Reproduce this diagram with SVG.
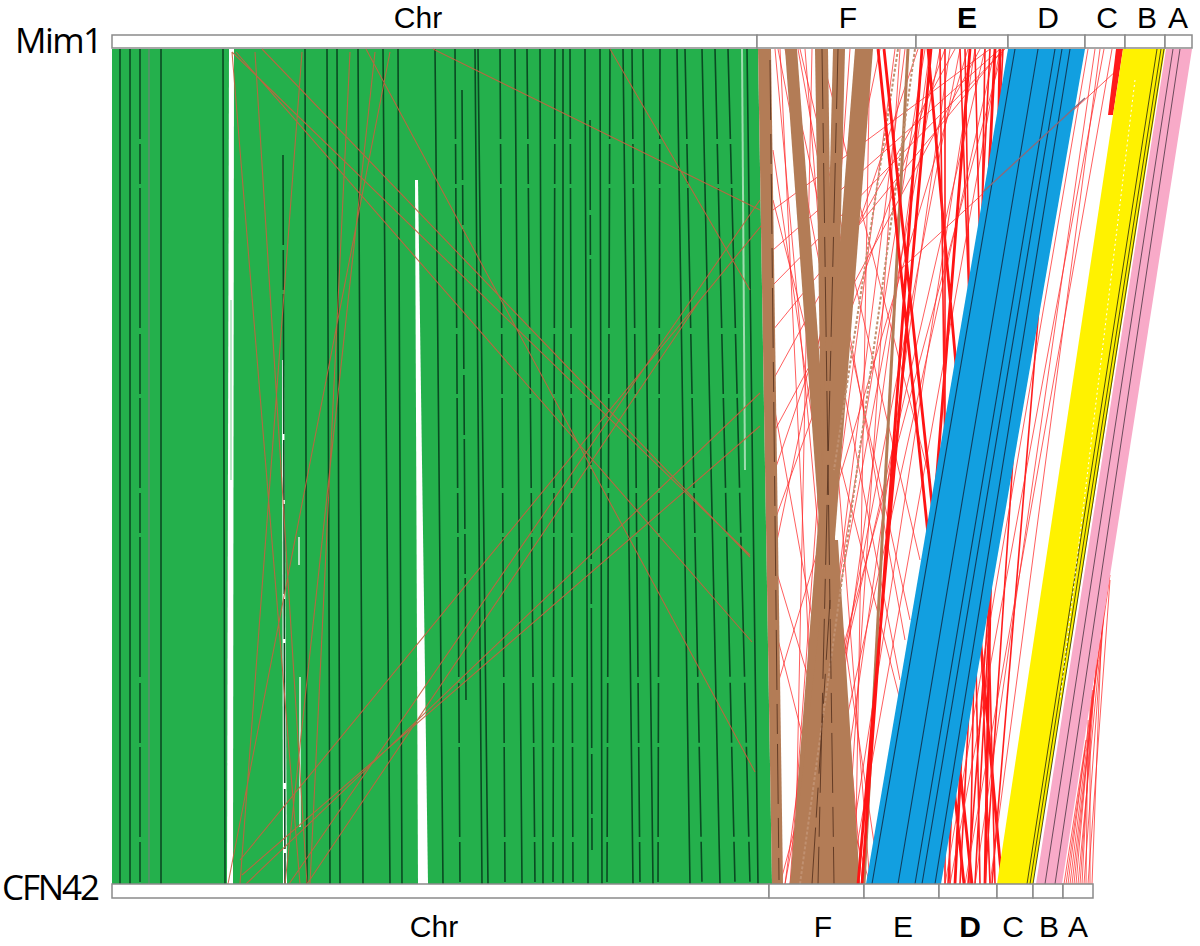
<svg xmlns="http://www.w3.org/2000/svg" width="1200" height="946" viewBox="0 0 1200 946">
<style>
.lbl{font-family:"Liberation Sans",Arial,sans-serif;font-size:30px;fill:#000;text-anchor:middle}
.gen{font-family:"Open Sans","Liberation Sans",sans-serif;font-size:35px;fill:#000}
.bar{fill:#fff;stroke:#8a8a8a;stroke-width:1.5}
.dg{fill:none;stroke:#0a4a22;stroke-width:1.6}
.dgd{fill:none;stroke:#0a4a22;stroke-width:1.6;stroke-dasharray:90 5 40 4 140 6 60 4}
.rb{fill:none;stroke:#c4623f;stroke-width:1.1;opacity:.9}
.rt{fill:none;stroke:#ff2b2b;stroke-width:.9;opacity:.85}
.rm{fill:none;stroke:#ff1e1e;stroke-width:1.6}
.rk{fill:none;stroke:#ff1414;stroke-width:2.8}
.br{fill:#b37c56}
.bl{fill:none;stroke:#123c5c;stroke-width:1.1}
</style>
<rect width="1200" height="946" fill="#fff"/>
<g id="chr-block">
<polygon points="112,49 758,49 772,884 112,884" fill="#24b04c"/>
<polygon points="229,49 234,49 233,884 227,884" fill="#fff"/>
<line x1="231" y1="300" x2="231" y2="480" stroke="#a8e0b8" stroke-width="1.5"/>
<polygon points="282,360 284,360 287,884 283,884" fill="#fff"/>
<line x1="299" y1="537" x2="299" y2="565" stroke="#e8f8ee" stroke-width="1.5"/>
<line x1="300" y1="677" x2="300" y2="827" stroke="#e8f8ee" stroke-width="1.5"/>
<polygon points="415,180 418,180 428,884 418,884" fill="#fff"/>
<line x1="742" y1="49" x2="745" y2="470" stroke="#9fdcb0" stroke-width="2"/>
<line x1="149" y1="49" x2="149" y2="884" stroke="#5d8d6c" stroke-width="1.5"/>
<path class="dg" d="M120 49L120 884M130 49L130 884M161 49L161 884M223 49L225 884M305 49L307 884M327 49L330 884M337 49L340 884M358 49L363 884M383 49L390 884M398 49L402 884M435 49L443 884M475 49L482 884M478 49L488 884M515 49L522 884M540 49L543 884M563 49L563 884M585 49L588 884M600 49L602 884M623 49L633 884M643 49L653 884M677 49L690 884M702 49L720 884M747 49L758 884"/>
<path class="dgd" d="M283 155L285 884M527 49L535 884M555 49L553 884M610 49L607 884M660 49L658 884M685 49L702 884M715 49L735 884M728 49L750 884M500 49L505 884M455 49L460 884M570 49L573 884M462 90L466 700M590 120L592 850M632 49L640 884M140 49L140 884"/>
<path class="rb" d="M232 52L750 555M236 52L752 642M262 49L750 557M366 49L755 772M433 49L760 210M610 49L750 290M246 884L760 393M289 884L760 200M240 860L770 215M242 875L760 426M307 884L700 300M232 52L300 884M302 52L240 884M390 52L228 884M375 52L285 884M255 52L307 884M350 52L310 884"/>
</g>
<g id="links">
<path class="rt" d="M790 49L862 884M798 49L905 640M805 49L870 884M812 49L795 884M820 49L930 480M850 49L790 884M862 49L805 884M870 49L855 884M880 49L773 560M895 49L785 884M905 49L800 884M925 49L790 884M930 49L815 884M940 49L785 884M950 49L830 884M960 49L800 884M975 49L845 884M985 49L792 884M995 49L810 884M1000 49L850 884M1003 49L780 884M775 49L850 884M780 49L820 884M1000 49L773 250M1005 49L773 285M990 49L773 210M1003 49L773 330M918 49L775 470M945 49L775 520M968 49L773 700M773 400L860 884M773 560L870 884M773 620L840 884M773 200L900 700M800 49L920 560M785 49L910 620M778 49L900 680M955 49L773 380M980 49L775 430M773 150L880 884M900 49L845 884"/>
<polygon class="br" points="758,49 771,49 783,884 772,884"/>
<polygon class="br" points="785,49 797,49 858,884 845,884"/>
<polygon class="br" points="815,49 828,49 840,884 828,884"/>
<polygon class="br" points="833,49 845,49 825,884 812,884"/>
<polygon class="br" points="855,49 873,49 808,884 790,884"/>
<polygon class="br" points="829,540 838,540 860,884 790,884"/>
<line x1="908" y1="49" x2="864" y2="884" stroke="#b37c56" stroke-width="3"/>
<line x1="915" y1="49" x2="800" y2="884" stroke="#c09070" stroke-width="2" stroke-dasharray="3 2"/>
<line x1="898" y1="49" x2="834" y2="470" stroke="#c09070" stroke-width="2" stroke-dasharray="3 2"/>
<path fill="none" stroke="#5a3420" stroke-width=".9" stroke-dasharray="60 14 30 10" d="M838 49L818 884M822 49L834 884M770 60L779 880M830 600L812 884"/>
<path class="rk" d="M878 49L964 884M884 49L972 884M922 49L862 884M928 49L1002 884M931 49L858 884M970 49L905 884M995 49L955 884M1000 49L985 884"/>
<path class="rm" d="M960 49L990 884M965 49L980 884M975 49L995 884M985 49L970 884M940 49L950 884M945 49L945 884M990 49L948 884M1003 49L960 884M1020 49L975 884M1040 49L985 884M1060 49L992 884M1030 49L968 884"/>
<path class="rt" d="M1088 49L945 884M1095 49L975 884M1104 49L950 884M1112 49L965 884M1100 49L990 884M900 270L1117 70"/>
<polygon points="1116,49 1123,49 1113,115 1108,115" fill="#ff1a1a"/>
<polygon points="1008,49 1085,49 941,884 866,884" fill="#129fe0"/>
<path class="bl" d="M1015 49L872 884M1038 49L898 884M1055 49L915 884M1062 49L922 884M1070 49L935 884"/>
<line x1="983" y1="192" x2="1085" y2="98" stroke="#8c6a7a" stroke-width="1.3"/>
<path class="rt" d="M1066 884L1110 575M1070 884L1100 640M1074 884L1095 680M1078 884L1105 600M1082 884L1092 690M1086 884L1088 720M1090 884L1090 700M1092 884L1102 620M1068 884L1085 750M1072 884L1098 660M1088 884L1110 580M1080 884L1097 650M1064 884L1086 740M1076 884L1093 690M1084 884L1104 610"/>
<polygon points="1123,49 1165,49 1033,884 997,884" fill="#fff200"/>
<path fill="none" stroke="#3a3a10" stroke-width=".9" d="M1157 49L1027 884M1161 49L1030 884M1164 49L1033 884"/>
<line x1="1135" y1="80" x2="1060" y2="700" stroke="#fff" stroke-width="1" stroke-dasharray="2 3"/>
<polygon points="1166,49 1192,49 1062,884 1036,884" fill="#f8aac8"/>
<path fill="none" stroke="#6b4b5b" stroke-width="1" d="M1173 49L1045 884M1180 49L1055 884"/>
</g>
<g id="mim1">
<rect class="bar" x="112" y="35" width="645" height="13"/>
<rect class="bar" x="757" y="35" width="159" height="13"/>
<rect class="bar" x="916" y="35" width="92" height="13"/>
<rect class="bar" x="1008" y="35" width="77" height="13"/>
<rect class="bar" x="1085" y="35" width="40" height="13"/>
<rect class="bar" x="1125" y="35" width="40" height="13"/>
<rect class="bar" x="1165" y="35" width="27" height="13"/>
<text class="gen" x="15" y="53" textLength="88">Mim1</text>
<text class="lbl" x="418" y="28">Chr</text>
<text class="lbl" x="848" y="28">F</text>
<text class="lbl" x="967" y="28" font-weight="bold">E</text>
<text class="lbl" x="1048" y="28">D</text>
<text class="lbl" x="1107" y="28">C</text>
<text class="lbl" x="1147" y="28">B</text>
<text class="lbl" x="1178" y="28">A</text>
</g>
<g id="cfn42">
<rect class="bar" x="112" y="884" width="657" height="14"/>
<rect class="bar" x="769" y="884" width="95" height="14"/>
<rect class="bar" x="864" y="884" width="75" height="14"/>
<rect class="bar" x="939" y="884" width="58" height="14"/>
<rect class="bar" x="997" y="884" width="36" height="14"/>
<rect class="bar" x="1033" y="884" width="30" height="14"/>
<rect class="bar" x="1063" y="884" width="30" height="14"/>
<text class="gen" x="2" y="900" textLength="98">CFN42</text>
<text class="lbl" x="434" y="937">Chr</text>
<text class="lbl" x="823" y="937">F</text>
<text class="lbl" x="903" y="937">E</text>
<text class="lbl" x="970" y="937" font-weight="bold">D</text>
<text class="lbl" x="1013" y="937">C</text>
<text class="lbl" x="1049" y="937">B</text>
<text class="lbl" x="1078" y="937">A</text>
</g>
</svg>
